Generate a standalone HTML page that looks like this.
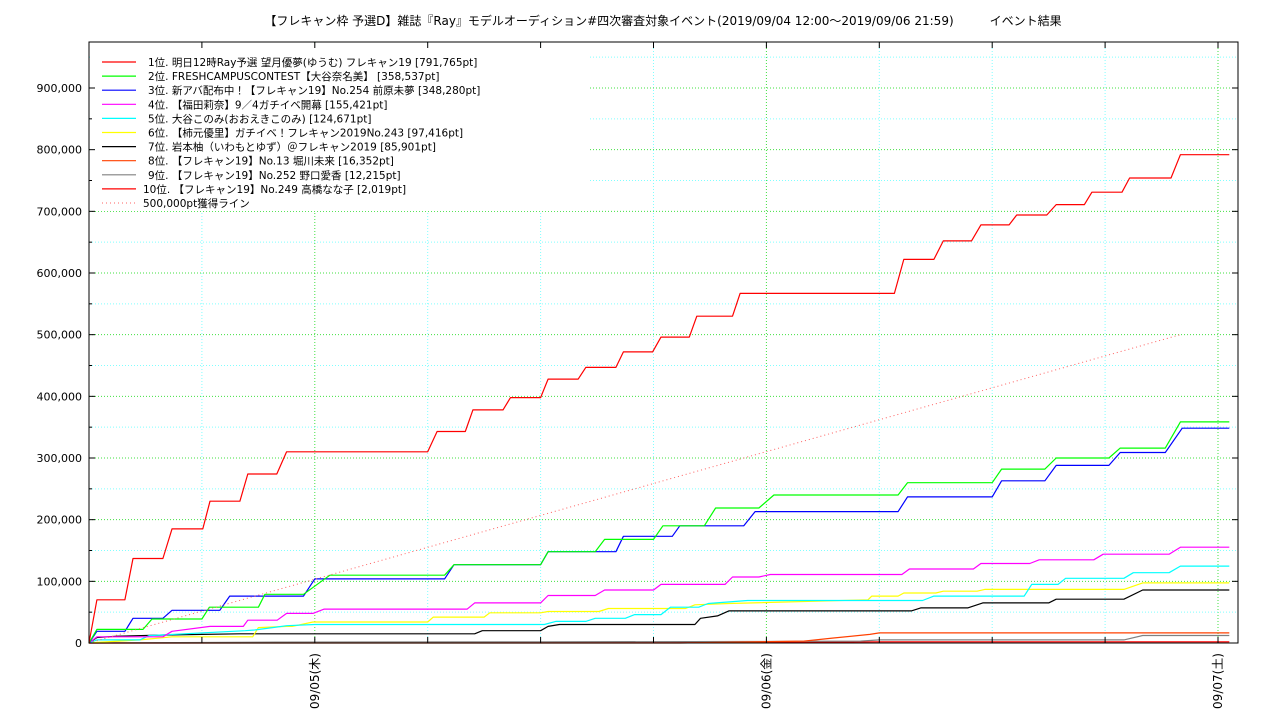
<!DOCTYPE html>
<html><head><meta charset="utf-8">
<style>
html,body{margin:0;padding:0;background:#fff;}
svg{display:block;font-family:"DejaVu Sans","Noto Sans CJK JP",sans-serif;}
</style></head>
<body>
<svg id="chart" width="1280" height="720" viewBox="0 0 1280 720">
<text x="663" y="25" font-size="12" text-anchor="middle">【フレキャン枠 予選D】雑誌『Ray』モデルオーディション#四次審査対象イベント(2019/09/04 12:00～2019/09/06 21:59)　　　イベント結果</text>
</svg>
<script>
// hours since 2019/09/04 12:00
const s1h=[0,0.42,1.91,2.34,3.93,4.41,6.05,6.43,8.02,8.44,9.98,10.5,18.0,18.5,20.0,20.4,22.0,22.4,24.0,24.4,26.0,26.4,28.0,28.4,29.95,30.4,31.9,32.3,34.2,34.6,42.8,43.3,44.9,45.4,46.9,47.4,48.9,49.3,50.9,51.4,52.9,53.3,54.9,55.3,57.5,58.0,60.6];
const s1v=[0,70000,70000,137000,137000,185000,185000,230000,230000,274000,274000,310000,310000,343000,343000,378000,378000,398000,398000,428000,428000,447000,447000,472000,472000,496000,496000,530000,530000,567000,567000,622000,622000,652000,652000,678000,678000,694000,694000,711000,711000,731000,731000,754000,754000,791765,791765];
const s2h=[0,0.42,2.87,3.35,6.0,6.4,9.0,9.35,11.4,12.8,18.9,19.4,24.0,24.4,26.9,27.4,30.0,30.5,32.7,33.3,35.6,36.4,43.0,43.5,48.0,48.5,50.8,51.4,54.2,54.8,57.2,58.0,60.6];
const s2v=[0,22000,22000,39000,39000,58000,58000,79000,79000,110000,110000,127000,127000,148000,148000,168000,168000,190000,190000,219000,219000,240000,240000,260000,260000,282000,282000,300000,300000,316000,316000,358537,358537];
const s3h=[0,0.42,1.91,2.34,3.93,4.41,6.95,7.48,11.4,12.0,18.9,19.4,24.0,24.4,28.0,28.4,31.0,31.4,34.8,35.4,43.0,43.5,48.0,48.5,50.8,51.4,54.2,54.8,57.2,58.1,60.6];
const s3v=[0,19000,19000,40000,40000,53000,53000,76000,76000,104000,104000,127000,127000,148000,148000,173000,173000,190000,190000,213000,213000,237000,237000,263000,263000,288000,288000,309000,309000,348280,348280];
const s4h=[0,0.42,3.93,4.41,6.43,8.2,8.44,10.0,10.5,11.9,12.5,20.1,20.5,24.0,24.4,26.9,27.4,30.0,30.4,33.8,34.2,35.6,36.2,43.2,43.6,47.0,47.4,50.0,50.5,53.4,53.9,57.4,58.0,60.6];
const s4v=[0,10000,10000,19000,27000,27000,37000,37000,48000,48000,55000,55000,65000,65000,77000,77000,86000,86000,95000,95000,107000,107000,111000,111000,120000,120000,129000,129000,135000,135000,144000,144000,155421,155421];
const s5h=[0,0.42,2.7,3.2,8.3,8.8,10.0,10.5,12.0,24.2,24.8,26.4,26.9,28.5,29.0,30.4,30.9,32.4,32.9,35.0,44.3,44.9,49.7,50.1,51.5,51.9,55.0,55.5,57.4,58.0,60.6];
const s5v=[0,5000,5000,12000,20000,21000,26000,28000,30000,30000,35000,35000,40000,40000,46000,46000,58000,58000,64000,69000,69000,76000,76000,95000,95000,105000,105000,114000,114000,124671,124671];
const s6h=[0,0.42,2.7,4.41,8.7,9.0,10.5,10.8,11.9,18.0,18.3,21.0,21.3,24.0,24.4,27.1,27.6,31.7,32.2,34.0,41.4,41.6,43.0,43.3,45.0,45.4,47.2,47.6,55.0,56.0,60.6];
const s6v=[0,1000,5000,10000,10000,25000,27000,27000,34000,34000,42000,42000,49000,49000,51000,51000,56000,56000,62000,64000,70000,76000,76000,81000,81000,84000,84000,87000,87000,97416,97416];
const s7h=[0,0.42,1.5,4.0,8.0,20.5,20.9,24.0,24.4,25.0,32.2,32.5,33.4,34.0,43.7,44.2,46.7,47.5,51.0,51.4,55.0,56.0,60.6];
const s7v=[0,9000,11000,13000,15000,15000,20000,20000,27000,30000,30000,40000,44000,52000,52000,57000,57000,65000,65000,71000,71000,85901,85901];
const s8h=[0,31.4,38.0,39.5,41.5,42.0,60.6];
const s8v=[0,0,3000,8000,14000,16352,16352];
const s9h=[0,10.0,24.0,35.0,41.0,42.0,55.0,56.0,60.6];
const s9v=[0,1500,2000,2500,3000,5000,5000,12215,12215];
const s10h=[0,31.0,42.0,60.6];
const s10v=[0,500,2000,2019];
const lineH=[0,58];
const lineV=[0,500000];
const yTicks=[0,100000,200000,300000,400000,500000,600000,700000,800000,900000];
const yTickLabels=["0","100,000","200,000","300,000","400,000","500,000","600,000","700,000","800,000","900,000"];
const xTickHours=[12,36,60];
const xTickLabels=["09/05(木)","09/06(金)","09/07(土)"];
const legendLabels=["1位. 明日12時Ray予選 望月優夢(ゆうむ) フレキャン19 [791,765pt]","2位. FRESHCAMPUSCONTEST【大谷奈名美】 [358,537pt]","3位. 新アバ配布中！【フレキャン19】No.254 前原未夢 [348,280pt]","4位. 【福田莉奈】9／4ガチイベ開幕 [155,421pt]","5位. 大谷このみ(おおえきこのみ) [124,671pt]","6位. 【柿元優里】ガチイベ！フレキャン2019No.243 [97,416pt]","7位. 岩本柚（いわもとゆず）＠フレキャン2019 [85,901pt]","8位. 【フレキャン19】No.13 堀川未来 [16,352pt]","9位. 【フレキャン19】No.252 野口愛香 [12,215pt]","10位. 【フレキャン19】No.249 高橋なな子 [2,019pt]","500,000pt獲得ライン"];

const L=89,R=1238,T=42,B=643;
const X=h=>L+h*(1129/60);
const Y=v=>B-v*(555/900000);
const svg=document.getElementById('chart');
const NS='http://www.w3.org/2000/svg';
function mk(tag,attrs,parent){const e=document.createElementNS(NS,tag);for(const k in attrs)e.setAttribute(k,attrs[k]);(parent||svg).appendChild(e);return e;}

for(let h=6;h<61;h+=6){const g=mk('line',{x1:X(h),x2:X(h),y1:T,y2:B,stroke:(h%24==12)?'#40e040':'#80ffff','stroke-dasharray':'1,2','stroke-width':1});
}
for(let v=50000;v<=950000;v+=50000){const g=mk('line',{x1:L,x2:R,y1:Y(v),y2:Y(v),stroke:(v%100000==0)?'#40e040':'#80ffff','stroke-dasharray':'1,2','stroke-width':1});
}

const lb=mk('rect',{x:L+1,y:T+1,width:500,height:168,fill:'#fff'});


const series=[[s10h,s10v,'#ff0000'],[s9h,s9v,'#808080'],[s8h,s8v,'#ff4000'],[s7h,s7v,'#000000'],[s6h,s6v,'#ffff00'],[s5h,s5v,'#00ffff'],[s4h,s4v,'#ff00ff'],[s3h,s3v,'#0000ff'],[s2h,s2v,'#00ff00'],[s1h,s1v,'#ff0000']];
const names=['series-10','series-9','series-8','series-7','series-6','series-5','series-4','series-3','series-2','series-1'];
series.forEach((s,i)=>{const p=s[0].map((h,j)=>X(h).toFixed(1)+','+Y(s[1][j]).toFixed(1)).join(' ');
const e=mk('polyline',{points:p,fill:'none',stroke:s[2],'stroke-width':1.2,'stroke-linejoin':'round'});
});
const tl=mk('polyline',{points:lineH.map((h,j)=>X(h)+','+Y(lineV[j])).join(' '),fill:'none',stroke:'#ff6060','stroke-dasharray':'1,3','stroke-width':1});


const fr=mk('rect',{x:L,y:T,width:R-L,height:B-T,fill:'none',stroke:'#000','stroke-width':1});


yTicks.forEach((v,i)=>{const t=mk('line',{x1:L,x2:L+6,y1:Y(v),y2:Y(v),stroke:'#000'});

const t2=mk('line',{x1:R,x2:R-6,y1:Y(v),y2:Y(v),stroke:'#000'});

const lab=mk('text',{x:L-7,y:Y(v)+4,'font-size':11,'text-anchor':'end'});lab.textContent=yTickLabels[i];
});
for(let v=50000;v<950000;v+=100000){const t=mk('line',{x1:L,x2:L+3,y1:Y(v),y2:Y(v),stroke:'#000'});
}
for(let h=6;h<61;h+=6){const t=mk('line',{x1:X(h),x2:X(h),y1:B,y2:B-6,stroke:'#000'});

const t2=mk('line',{x1:X(h),x2:X(h),y1:T,y2:T+6,stroke:'#000'});
}
xTickHours.forEach((h,i)=>{const x=X(h)+4,y=B+10;const lab=mk('text',{x:x,y:y,'font-size':12,'text-anchor':'end',transform:`rotate(-90 ${x} ${y})`});lab.textContent=xTickLabels[i];
});

const lcol=['#ff0000','#00ff00','#0000ff','#ff00ff','#00ffff','#ffff00','#000000','#ff4000','#808080','#ff0000','#ff8080'];
legendLabels.forEach((t,i)=>{const y=62+i*14.1;
const ln=mk('line',{x1:102,x2:136,y1:y,y2:y,stroke:lcol[i],'stroke-width':1.2,'stroke-dasharray':i==10?'1,3':'none'});

const tx=mk('text',{x:i<9?148:143,y:y+4,'font-size':10.5});tx.textContent=t;
});
</script>
</body></html>
